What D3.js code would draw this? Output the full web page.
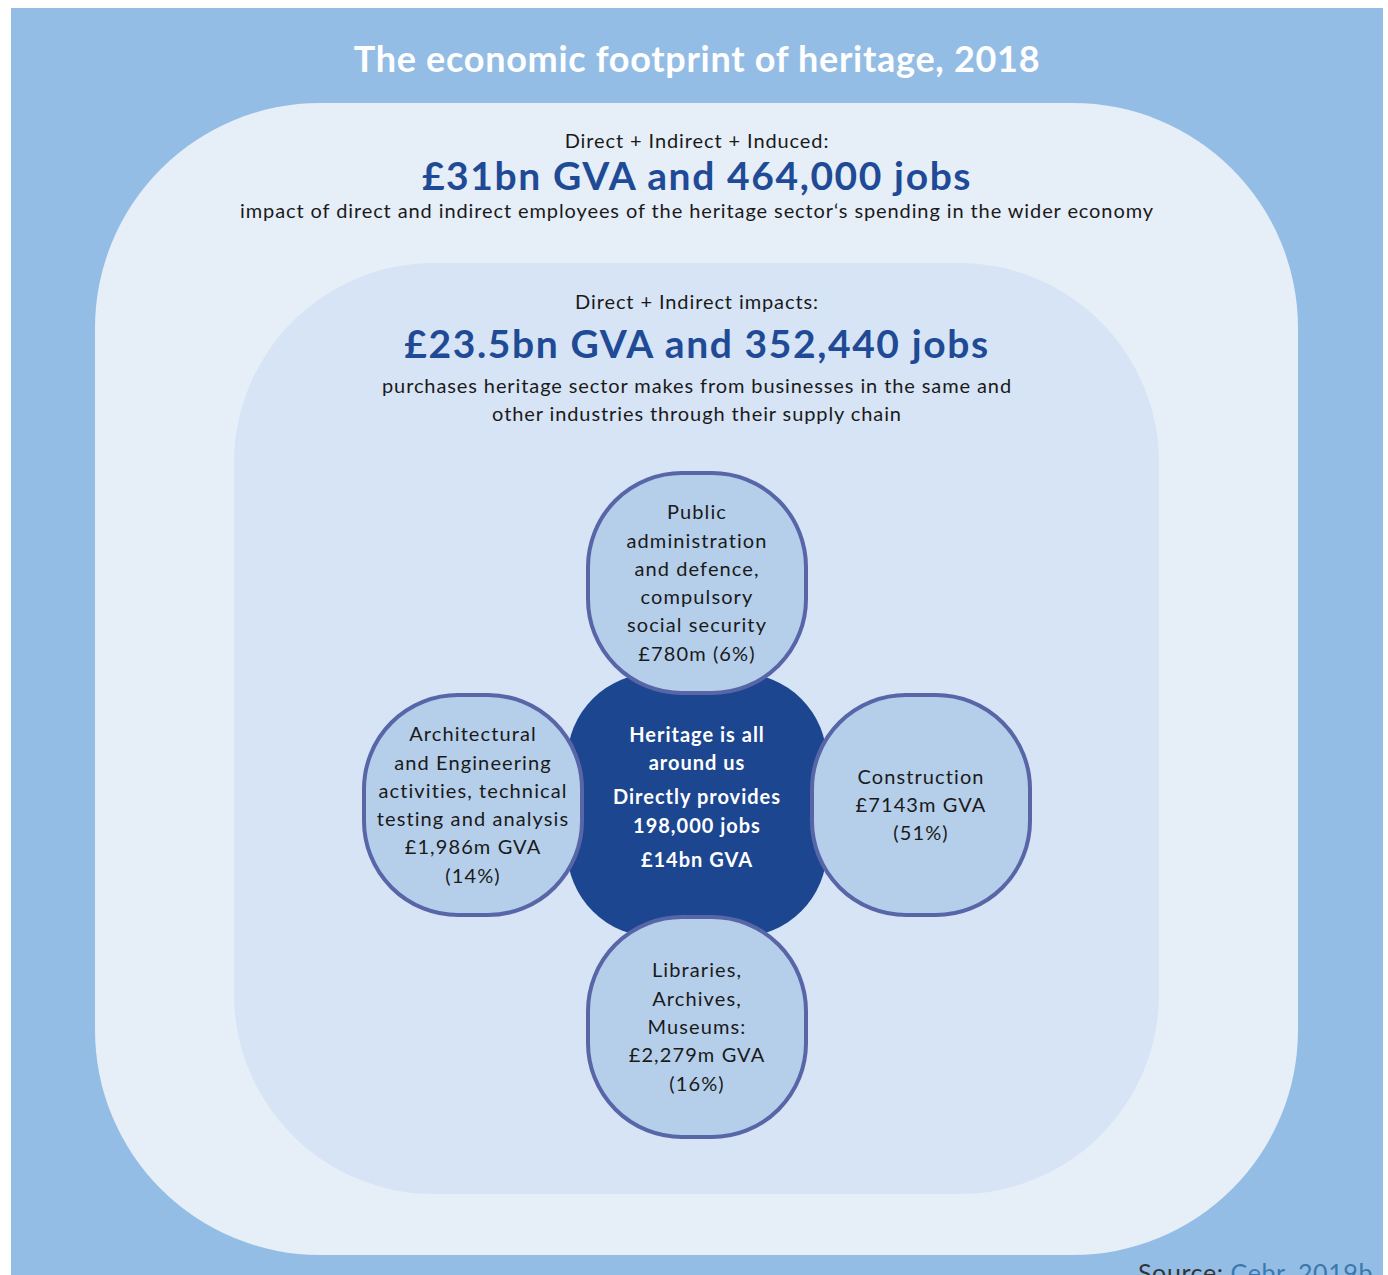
<!DOCTYPE html>
<html>
<head>
<meta charset="utf-8">
<script src="https://cdn.jsdelivr.net/npm/d3@7"></script>
<style>
  body { margin: 0; background: #fff; }
  svg { display: block; font-family: "Lato", "Open Sans", sans-serif; }
</style>
</head>
<body>
<div id="chart"></div>
<script>
// Data
const title = "The economic footprint of heritage, 2018";
const layers = ["Direct + Indirect + Induced:", "Direct + Indirect impacts:"];
const layerGVA = ["£31bn", "£23.5bn"];
const layerJobs = ["464,000", "352,440"];
const layerNotes = [
  ["impact of direct and indirect employees of the heritage sector‘s spending in the wider economy"],
  ["purchases heritage sector makes from businesses in the same and", "other industries through their supply chain"]
];
const centreLines = ["Heritage is all", "around us", "Directly provides", "198,000 jobs", "£14bn GVA"];
const sectors = [
  ["Public", "administration", "and defence,", "compulsory", "social security", "£780m (6%)"],
  ["Construction", "£7143m GVA", "(51%)"],
  ["Libraries,", "Archives,", "Museums:", "£2,279m GVA", "(16%)"],
  ["Architectural", "and Engineering", "activities, technical", "testing and analysis", "£1,986m GVA", "(14%)"]
];
const sectorPos = [[0, -1], [1, 0], [0, 1], [-1, 0]];

const W = 1388, H = 1275, cx = 697;
const svg = d3.select("#chart").append("svg").attr("width", W).attr("height", H);

svg.append("rect").attr("x", 11).attr("y", 8).attr("width", 1372).attr("height", H - 8).attr("fill", "#94bde6");

svg.append("text").attr("x", cx).attr("y", 72).attr("text-anchor", "middle")
  .attr("fill", "#fff").attr("font-weight", 700).attr("font-size", 36).attr("letter-spacing", 0.7).text(title);

// nested layers
const boxes = [
  {x: 95, y: 103, w: 1203, h: 1152, r: 225, fill: "#e6eef8", top: 148},
  {x: 234, y: 263, w: 925, h: 931, r: 200, fill: "#d6e4f5", top: 309}
];
boxes.forEach((b, i) => {
  svg.append("rect").attr("x", b.x).attr("y", b.y).attr("width", b.w).attr("height", b.h)
    .attr("rx", b.r).attr("fill", b.fill);
  svg.append("text").attr("x", cx).attr("y", b.top).attr("text-anchor", "middle")
    .attr("fill", "#1a1a1a").attr("font-size", 20).attr("letter-spacing", 0.9).text(layers[i]);
  svg.append("text").attr("x", cx).attr("y", b.top + (i ? 49 : 42)).attr("text-anchor", "middle")
    .attr("fill", "#1f4a96").attr("font-weight", 700).attr("font-size", 39).attr("letter-spacing", 1.6)
    .text(`${layerGVA[i]} GVA and ${layerJobs[i]} jobs`);
  layerNotes[i].forEach((t, j) => {
    svg.append("text").attr("x", cx).attr("y", b.top + (i ? 84 : 70) + j * 28).attr("text-anchor", "middle")
      .attr("fill", "#1a1a1a").attr("font-size", 20).attr("letter-spacing", 0.9).text(t);
  });
});

// centre + sectors
const cy = 805;
const off = d3.scaleLinear().domain([-1, 1]).range([-224, 224]);
const offY = d3.scaleLinear().domain([-1, 1]).range([-222, 222]);

svg.append("rect").attr("x", cx - 130).attr("y", cy - 132).attr("width", 260).attr("height", 264)
  .attr("rx", 88).attr("fill", "#1c4690");
const cLineY = [735, 763, 797, 826, 860];
centreLines.forEach((t, i) => {
  svg.append("text").attr("x", cx).attr("y", cLineY[i] + 7).attr("text-anchor", "middle")
    .attr("fill", "#fff").attr("font-weight", 700).attr("font-size", 20).attr("letter-spacing", 1.0).text(t);
});

const g = svg.selectAll("g.sector").data(sectors).join("g").attr("class", "sector")
  .attr("transform", (d, i) => `translate(${cx + off(sectorPos[i][0])},${cy + offY(sectorPos[i][1])})`);
g.append("rect").attr("x", -109).attr("y", -110).attr("width", 218).attr("height", 220).attr("rx", 94)
  .attr("fill", "#b5cfeb").attr("stroke", "#5866a8").attr("stroke-width", 4);
g.each(function(d) {
  const n = d.length, lh = 28.3;
  d3.select(this).selectAll("text").data(d).join("text")
    .attr("x", 0).attr("y", (t, j) => (j - (n - 1) / 2) * lh + 7)
    .attr("text-anchor", "middle").attr("fill", "#1a1a1a").attr("font-size", 20).attr("letter-spacing", 1.1)
    .text(t => t);
});

const src = svg.append("text").attr("x", 1373).attr("y", 1282).attr("text-anchor", "end")
  .attr("font-size", 25).attr("letter-spacing", 0.6);
src.append("tspan").attr("fill", "#333").text("Source: ");
src.append("tspan").attr("fill", "#3b78ad").text("Cebr, 2019b");
</script>
</body>
</html>
